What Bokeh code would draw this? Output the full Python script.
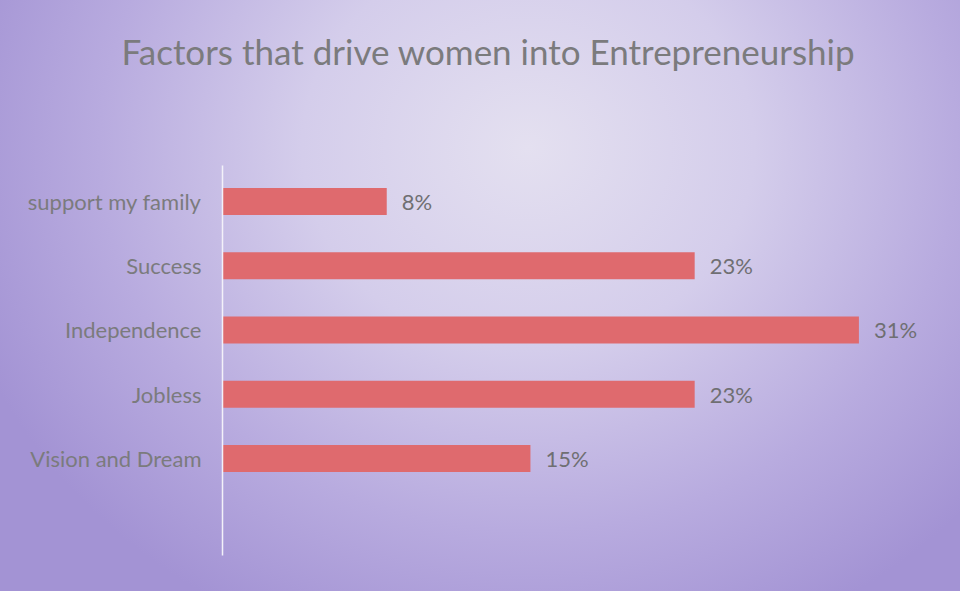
from bokeh.plotting import figure
from bokeh.models import Range1d, FixedTicker, ColumnDataSource, Title
from bokeh.core.properties import value
from bokeh.embed import file_html
from bokeh.resources import INLINE

# ---- data (top to bottom in the chart) ----
categories = ["support my family", "Success", "Independence", "Jobless", "Vision and Dream"]
values = [8, 23, 31, 23, 15]
value_labels = ["8%", "23%", "31%", "23%", "15%"]
title_text = "Factors that drive women into Entrepreneurship"

n = len(categories)
ypos = [n - 1 - i for i in range(n)]  # top category highest

src = ColumnDataSource(dict(cat=categories, val=values, y=ypos, lab=value_labels))

p = figure(width=960, height=591, output_backend="svg", toolbar_location=None,
           title=None,
           x_range=Range1d(0, 34), y_range=Range1d(-1.51, 4.56),
           min_border_left=222, min_border_right=40, min_border_bottom=36, min_border_top=0)

# spacer between title and plot frame (nearest the frame)
p.add_layout(Title(text=" ", text_font_size="10px", standoff=54), "above")
# the chart title
p.add_layout(Title(text=title_text, align="left", offset=-101, standoff=54,
                   text_font="Lato", text_font_size="35px", text_font_style="normal",
                   text_color="#7b7b7d"), "above")

p.hbar(y="y", left=0, right="val", height=0.42, source=src,
       fill_color="#df6a6e", line_color=None)

p.text(x="val", y="y", text="lab", source=src, x_offset=15,
       text_baseline="middle", text_align="left",
       text_font=value("Lato"), text_font_size="22px", text_color="#6f6f72")

p.xaxis.visible = False
p.xgrid.visible = False
p.ygrid.visible = False
p.outline_line_color = None

ya = p.yaxis[0]
ya.ticker = FixedTicker(ticks=ypos)
ya.major_label_overrides = {y: c for y, c in zip(ypos, categories)}
ya.major_tick_line_color = None
ya.minor_tick_line_color = None
ya.axis_line_color = "#f3f1f9"
ya.axis_line_width = 1.5
ya.major_label_standoff = 15
ya.major_label_text_font = "Lato"
ya.major_label_text_font_size = "22px"
ya.major_label_text_color = "#7b7b7d"

p.background_fill_alpha = 0
p.border_fill_alpha = 0
p.styles = {"background": "radial-gradient(ellipse 62% 90% at 55% 25%, #e4e0f0 0%, #d4cdeb 38%, #b8abdf 72%, #a393d4 100%)"}

open("out.html", "w").write(file_html(p, INLINE))
